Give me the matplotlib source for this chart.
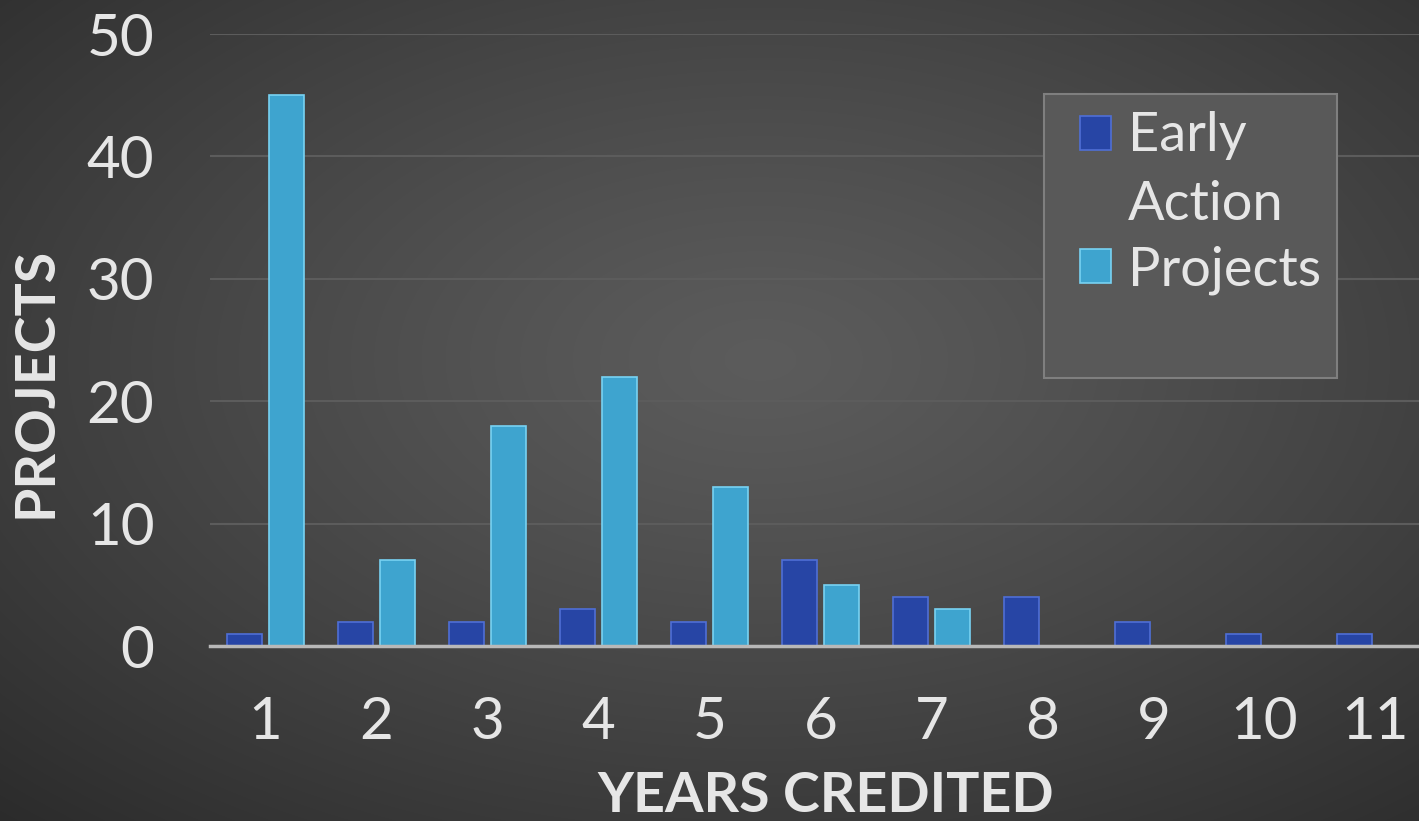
import numpy as np
import matplotlib
matplotlib.use("Agg")
import matplotlib.pyplot as plt
from matplotlib.patches import Rectangle

categories = ["1", "2", "3", "4", "5", "6", "7", "8", "9", "10", "11"]
early_action = [1, 2, 2, 3, 2, 7, 4, 4, 2, 1, 1]
projects = [45, 7, 18, 22, 13, 5, 3, 0, 0, 0, 0]
yticks = [0, 10, 20, 30, 40, 50]

W, H = 1419, 821
fig = plt.figure(figsize=(W / 100, H / 100), dpi=100)

# radial gradient background
bg = fig.add_axes([0, 0, 1, 1], zorder=-10)
yy, xx = np.mgrid[0:H, 0:W]
cx, cy = 760, 360
r = np.sqrt(((xx - cx) / W) ** 2 + ((yy - cy) / H) ** 2)
r = r / r.max()
c0, c1 = 0.36, 0.17
val = c0 + (c1 - c0) * np.clip(r, 0, 1) ** 1.2
img = np.dstack([val, val, val])
bg.imshow(img, aspect="auto", extent=[0, 1, 0, 1], origin="upper")
bg.axis("off")

font = ["Lato", "DejaVu Sans"]
txtc = "#e6e6e6"

x0, x1 = 210 / W, 1431 / W
y0, y1 = 1 - 646 / H, 1 - 34 / H
ax = fig.add_axes([x0, y0, x1 - x0, y1 - y0])
ax.patch.set_alpha(0)

x = np.arange(len(categories))
bw = 0.31
off = 0.19
ax.bar(x - off, early_action, bw, color="#2745a5", edgecolor="#4f6fd6", linewidth=1.2, zorder=3, label="Early\nAction")
ax.bar(x + off, projects, bw, color="#3ea4cf", edgecolor="#78d2f2", linewidth=1.2, zorder=3, label="Projects")

ax.set_xlim(-0.5, len(categories) - 0.5)
ax.set_ylim(0, 50)
ax.set_yticks(yticks)
ax.set_yticklabels([str(v) for v in yticks], fontsize=42, color=txtc, family=font)
ax.set_xticks(x)
ax.set_xticklabels(categories, fontsize=42, color=txtc, family=font)
ax.tick_params(axis="both", length=0)
ax.tick_params(axis="y", pad=40)
ax.tick_params(axis="x", pad=36)
ax.grid(axis="y", color="#5c5c5c", linewidth=1.5, zorder=0)
for s in ["top", "right", "left"]:
    ax.spines[s].set_visible(False)
ax.spines["bottom"].set_color("#b8b8b8")
ax.spines["bottom"].set_linewidth(2.5)
ax.spines["bottom"].set_zorder(4)

fig.text(826 / W, 1 - 796 / H, "YEARS CREDITED", fontsize=40, fontweight="bold",
         color=txtc, family=font, ha="center", va="center")
fig.text(36 / W, 1 - 382 / H, "PROJECTS", fontsize=40, fontweight="bold",
         color=txtc, family=font, ha="center", va="center", rotation=90)

# legend frame
ax.add_patch(Rectangle((1044 / W, 1 - 378 / H), (1337 - 1044) / W, (378 - 94) / H,
                       transform=fig.transFigure, facecolor="#595959", clip_on=False,
                       edgecolor="#7f7f7f", linewidth=1.5, zorder=5))

leg = ax.legend(loc="upper left", bbox_to_anchor=((1069 - 210) / (1431 - 210), 1 - (100 - 34) / 612),
                prop={"family": font, "size": 39}, labelcolor=txtc, frameon=False,
                handlelength=0.58, handleheight=0.58, handletextpad=0.3,
                borderpad=0.2, labelspacing=0.3, borderaxespad=0)
leg.set_zorder(6)
leg.get_texts()[0].set_linespacing(1.5)
fig.canvas.draw()
h0 = leg.legend_handles[0]
h0.set_y(h0.get_y() + 27)

fig.savefig("out.png", dpi=100)
